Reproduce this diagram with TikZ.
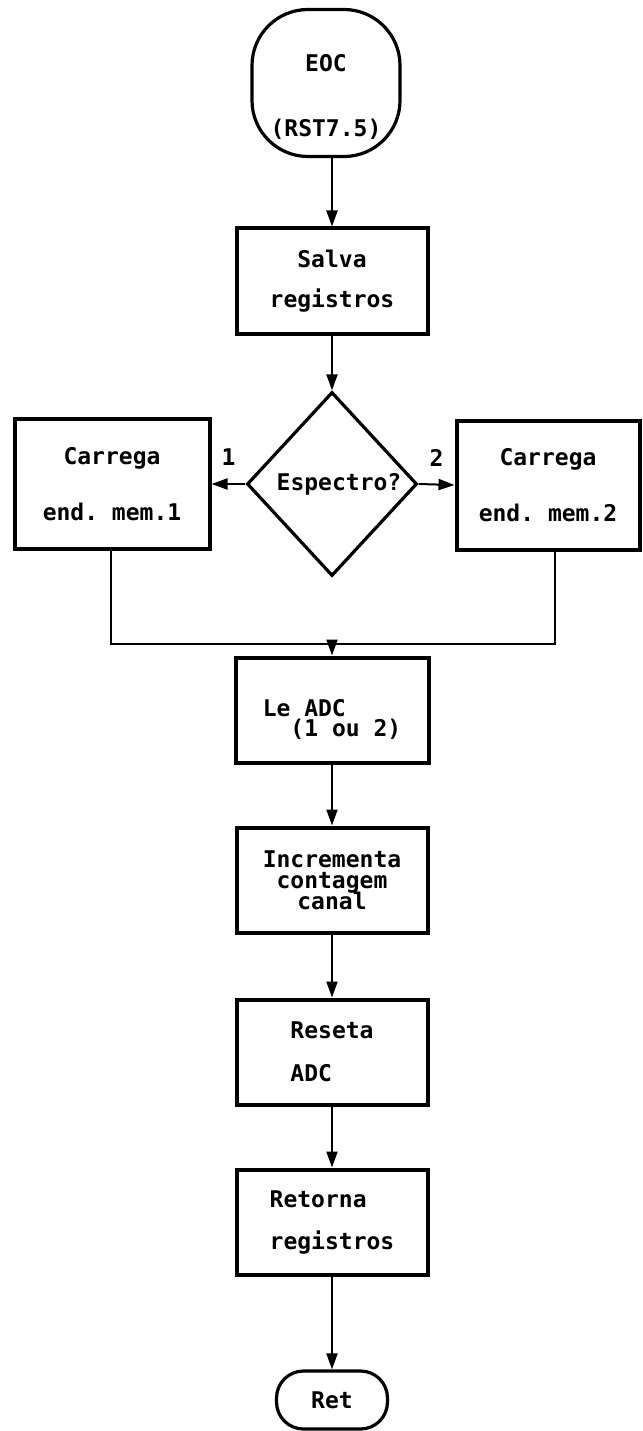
\documentclass[tikz,border=0pt]{standalone}
\usepackage{fontspec}
\setmonofont{DejaVu Sans Mono}
\usetikzlibrary{shapes.geometric,arrows.meta}
\begin{document}
\begin{tikzpicture}[x=1pt, y=-1pt,
every node/.style={font=\ttfamily\bfseries\fontsize{23}{27}\selectfont},
box/.style={draw, line width=4pt, minimum width=191pt, minimum height=105pt, align=center},
term/.style={draw, line width=3.2pt, align=center},
decision/.style={draw, diamond, line width=3.2pt, minimum width=170pt, minimum height=184pt, inner sep=0pt},
flow/.style={line width=2pt, -{Triangle[length=16pt,width=11pt]}},
wire/.style={line width=2pt}]
\useasboundingbox (0,0) rectangle (642,1431);

\node[term, rounded corners=56pt, minimum width=148pt, minimum height=147pt] (eoc) at (326,83)
    {\rule{0pt}{45pt}EOC\\[38pt](RST7.5)};
\node[box] (salva) at (332,281) {Salva\\[13pt]registros};
\node[decision] (espectro) at (332,484) {\hspace{14pt}Espectro?};
\node[box, minimum width=195pt, minimum height=130pt] (mem1) at (112,484) {Carrega\\[29pt]end. mem.1};
\node[box, minimum width=183pt, minimum height=129pt] (mem2) at (548,485) {Carrega\\[29pt]end. mem.2};
\coordinate (junc) at (332,644);
\node[box, minimum width=193pt, align=left] (adc) at (332,710) {\rule{0pt}{37pt}Le ADC\\[-7pt]\phantom{Le}(1 ou 2)};
\node[box] (inc) at (332,880) {Incrementa\\[-6pt]contagem\\[-6pt]canal};
\node[box, align=left] (reset) at (332,1052) {Reseta\\[16pt]ADC};
\node[box, align=left] (retorna) at (332,1222) {Retorna\\[15pt]registros};
\node[term, rounded corners=27pt, minimum width=111pt, minimum height=58pt] (ret) at (332,1400) {Ret};

\draw[flow] (eoc.south -| salva.north) -- (salva.north);
\draw[flow] (salva) -- (espectro);
\draw[flow] (espectro.west) -- node[above=14pt] {1} (mem1.east);
\draw[flow] (espectro.east) -- node[above=14pt] {2} (mem2.west);
\draw[wire] (mem1.south -| 111,0) |- (junc) -| (mem2.south -| 555,0);
\fill (junc) circle (2.5pt);
\draw[flow] (junc) -- (adc);
\draw[flow] (adc) -- (inc);
\draw[flow] (inc) -- (reset);
\draw[flow] (reset) -- (retorna);
\draw[flow] (retorna) -- (ret);
\end{tikzpicture}
\end{document}
